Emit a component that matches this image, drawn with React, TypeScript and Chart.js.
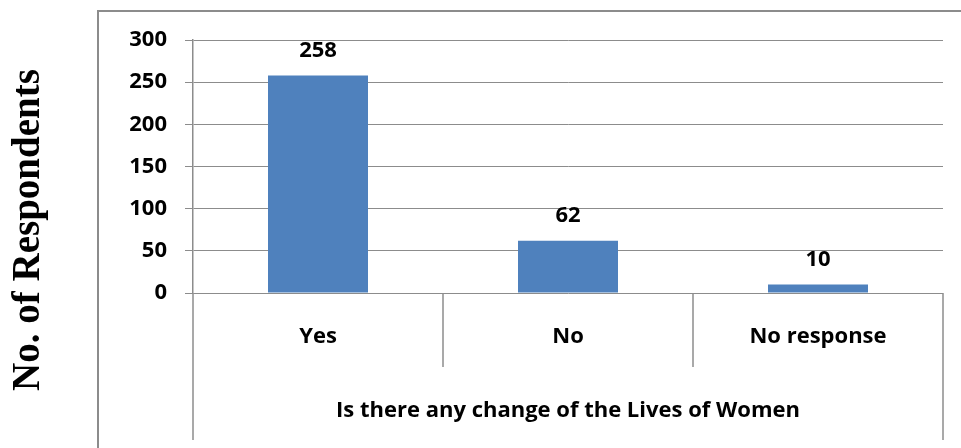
import React, { useEffect, useRef } from "react";
import { Chart, registerables } from "chart.js";

Chart.register(...registerables);

const categories = ["Yes", "No", "No response"];
const respondents = [258, 62, 10];
const yMin = 0;
const yMax = 300;
const yStep = 50;
const xAxisTitle = "Is there any change of the Lives of Women";
const yAxisTitle = "No. of Respondents";

const FONT = '"Open Sans", sans-serif';
const LINE = "#8c8c8c";
const BAR = "#4F81BD";

const tablePlugin = {
  id: "tablePlugin",
  beforeDraw(chart: any) {
    const ctx = chart.ctx;
    ctx.save();
    ctx.strokeStyle = LINE;
    ctx.lineWidth = 2;
    ctx.strokeRect(98, 11, 900, 500);
    ctx.restore();
  },
  afterDraw(chart: any) {
    const ctx = chart.ctx;
    const { left, right, bottom } = chart.chartArea;
    const xs = chart.scales.x;
    const n = categories.length;
    const step = (right - left) / n;
    ctx.save();
    // separators of the category table
    ctx.strokeStyle = LINE;
    ctx.lineWidth = 1.5;
    for (let i = 0; i <= n; i++) {
      const x = Math.round(left + i * step);
      const y2 = i === 0 || i === n ? bottom + 147 : bottom + 74;
      ctx.beginPath();
      ctx.moveTo(x, bottom);
      ctx.lineTo(x, y2);
      ctx.stroke();
    }
    ctx.fillStyle = "#000";
    ctx.textAlign = "center";
    ctx.textBaseline = "middle";
    ctx.font = `bold 22px ${FONT}`;
    categories.forEach((c, i) => {
      ctx.fillText(c, xs.getPixelForValue(i), bottom + 44);
    });
    ctx.fillText(xAxisTitle, (left + right) / 2, bottom + 118);
    // data labels
    const meta = chart.getDatasetMeta(0);
    meta.data.forEach((bar: any, i: number) => {
      ctx.fillText(String(respondents[i]), bar.x, bar.y - 25);
    });
    // y axis title
    ctx.translate(39, 230);
    ctx.rotate(-Math.PI / 2);
    ctx.textBaseline = "alphabetic";
    ctx.font = `bold 39px "Liberation Serif", "Times New Roman", serif`;
    ctx.fillText(yAxisTitle, 0, 0);
    ctx.restore();
  },
};

export default function App() {
  const ref = useRef<HTMLCanvasElement | null>(null);
  useEffect(() => {
    if (!ref.current) return;
    const chart = new Chart(ref.current, {
      type: "bar",
      data: {
        labels: categories,
        datasets: [
          {
            data: respondents,
            backgroundColor: BAR,
            borderWidth: 0,
            barPercentage: 0.4,
            categoryPercentage: 1,
          },
        ],
      },
      options: {
        responsive: false,
        animation: false,
        layout: { padding: { top: 40, right: 18, left: 0, bottom: 0 } },
        plugins: { legend: { display: false }, tooltip: { enabled: false } },
        scales: {
          x: {
            grid: { display: false },
            border: { display: false },
            ticks: { display: false },
            afterFit: (s: any) => {
              s.height = 155;
            },
          },
          y: {
            min: yMin,
            max: yMax,
            ticks: {
              stepSize: yStep,
              color: "#000",
              padding: 18,
              font: { family: FONT, size: 22, weight: "bold" },
            },
            grid: { color: LINE, lineWidth: 1, tickLength: 8 },
            border: { display: true, color: LINE, width: 1.5 },
            afterFit: (s: any) => {
              s.width = 193;
            },
          },
        },
      },
      plugins: [tablePlugin],
    });
    return () => chart.destroy();
  }, []);
  return (
    <div style={{ position: "fixed", left: 0, top: 0, width: 961, height: 448, background: "#fff" }}>
      <canvas ref={ref} width={961} height={448} />
    </div>
  );
}
